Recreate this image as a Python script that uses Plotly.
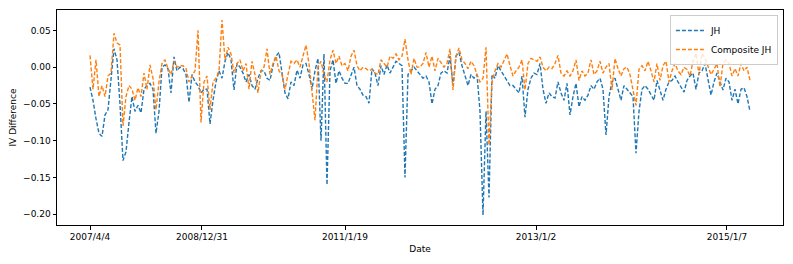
import plotly.graph_objects as go

# JH series (IV difference), one value per observation in time order
jh = [
    -0.027, -0.045, -0.070, -0.090, -0.094, -0.065, -0.058, -0.020, 0.025, 0.010,
    -0.050, -0.127, -0.115, -0.075, -0.040, -0.060, -0.052, -0.062, -0.030, -0.025,
    -0.022, -0.030, -0.090, -0.060, 0.000, 0.003, -0.002, -0.035, 0.014, -0.005,
    0.000, -0.002, -0.010, -0.048, -0.010, -0.020,
    -0.025, -0.035, -0.030, -0.030, -0.077, -0.045, -0.020, -0.005, -0.015, 0.008,
    0.020, 0.010, -0.031, 0.005, 0.000, -0.008, -0.020, -0.010, -0.025, -0.030,
    -0.015, -0.005, -0.005, -0.015, -0.018, 0.002, 0.015, 0.020, -0.010, -0.035,
    -0.043, -0.020, -0.025, -0.004, -0.015, 0.003,
    0.005, -0.010, -0.030, -0.005, 0.012, -0.100, 0.018, -0.160, -0.005, 0.010,
    -0.022, -0.005, -0.015, -0.022, -0.022, -0.010, 0.000, -0.025, -0.030, -0.038,
    -0.040, -0.049, -0.002, -0.008, -0.025, 0.002, -0.010, 0.003, -0.008, 0.000,
    0.008, 0.005, 0.002, -0.150, -0.010, -0.005, 0.000, -0.005,
    -0.010, -0.015, -0.012, -0.020, -0.050, -0.030, -0.025, -0.008, -0.005, -0.008,
    0.015, -0.025, 0.015, 0.020, 0.002, -0.010, -0.025, -0.010, -0.015, -0.010,
    -0.060, -0.201, -0.060, -0.177, -0.010, -0.015, 0.002, -0.005, -0.012, -0.018,
    -0.025, -0.025, -0.030, -0.035, -0.012, -0.068, -0.030, -0.015, -0.008,
    -0.010, 0.005, -0.030, -0.049, -0.035, -0.040, -0.042, -0.020, -0.035, -0.045,
    -0.022, -0.065, -0.040, -0.022, -0.054, -0.040, -0.045, -0.038, -0.025, -0.030,
    -0.020, -0.015, -0.030, -0.092, -0.040, -0.020, -0.015, -0.030, -0.045, -0.025,
    -0.030, -0.035, -0.040, -0.117, -0.060,
    -0.030, -0.025, -0.030, -0.038, -0.045, -0.018, -0.032, -0.045, -0.030, -0.020,
    -0.018, -0.012, -0.020, -0.028, -0.034, -0.018, -0.012, -0.008, -0.030, -0.008,
    -0.005, 0.005, -0.015, -0.038, -0.020, -0.008, -0.020, -0.031, -0.015, -0.020,
    -0.045, -0.030, -0.050, -0.030, -0.028, -0.040, -0.060,
]

# Composite JH series
composite_jh = [
    0.016, -0.030, 0.010, -0.040, -0.025, -0.040, -0.012, -0.008, 0.046, 0.033,
    0.030, -0.080, -0.040, -0.025, -0.030, -0.045, -0.028, -0.040, -0.008, -0.030,
    0.003, -0.015, -0.058, -0.020, 0.005, 0.010, -0.002, -0.010, 0.008, 0.000,
    0.002, 0.002, -0.002, -0.020, -0.012, -0.005,
    0.050, -0.075, -0.020, -0.012, -0.058, -0.020, -0.015, -0.005, 0.064, 0.010,
    0.027, 0.018, -0.008, 0.005, 0.010, -0.005, 0.005, -0.030, 0.008, -0.010,
    -0.035, -0.005, 0.000, 0.025, -0.010, 0.005, 0.015, -0.005, -0.010, -0.030,
    -0.010, 0.008, 0.005, 0.010, 0.000, 0.015,
    0.030, 0.005, -0.030, -0.072, 0.000, 0.008, -0.010, -0.020, 0.010, 0.023,
    0.005, 0.015, 0.002, 0.005, -0.005, 0.015, 0.023, 0.002, -0.005, 0.000,
    -0.002, -0.005, -0.003, -0.008, -0.010, 0.010, 0.005, 0.000, 0.015, 0.012,
    0.018, 0.010, 0.015, 0.038, 0.010, -0.010, 0.012, 0.000,
    0.000, 0.005, 0.020, 0.000, 0.015, -0.005, 0.012, 0.005, 0.000, 0.005,
    0.025, -0.031, 0.015, 0.026, 0.010, 0.005, -0.002, 0.008, 0.002, -0.010,
    -0.020, -0.015, 0.027, -0.106, -0.020, -0.005, 0.005, 0.000, 0.008, 0.018,
    0.002, -0.012, -0.005, 0.000, 0.010, -0.031, 0.005, 0.012, 0.010,
    0.008, 0.014, 0.000, -0.005, 0.000, -0.002, 0.005, 0.016, -0.008, -0.012,
    -0.005, -0.012, -0.005, 0.010, -0.018, -0.005, -0.012, -0.008, 0.010, -0.010,
    -0.005, 0.008, -0.008, 0.000, 0.005, -0.031, 0.012, -0.002, -0.012, -0.002,
    0.000, -0.010, -0.030, -0.052, -0.003,
    0.002, -0.005, 0.008, -0.005, -0.020, 0.005, -0.018, 0.002, 0.008, -0.020,
    -0.005, 0.005, -0.005, -0.010, 0.000, -0.003, -0.012, 0.008, 0.019, -0.010,
    0.019, 0.012, 0.000, -0.010, -0.003, 0.005, -0.027, 0.005, 0.010, 0.005,
    -0.012, -0.002, -0.012, 0.005, -0.005, 0.000, -0.018,
]

# Date tick labels and the observation index where each sits
tick_labels = ["2007/4/4", "2008/12/31", "2011/1/19", "2013/1/2", "2015/1/7"]
tick_positions = [0, 37.33, 85, 148.67, 212.33]

x_jh = list(range(len(jh)))
x_comp = list(range(len(composite_jh)))

fig = go.Figure()
fig.add_trace(go.Scatter(
    x=x_jh, y=jh, mode="lines", name="JH",
    line=dict(color="#1f77b4", width=1.4, dash="4px,2px"),
))
fig.add_trace(go.Scatter(
    x=x_comp, y=composite_jh, mode="lines", name="Composite JH",
    line=dict(color="#ff7f0e", width=1.4, dash="4px,2px"),
))

n = max(len(jh), len(composite_jh)) - 1
pad = n * 0.05
axis_common = dict(
    showline=True, linecolor="black", linewidth=1, mirror=True,
    ticks="outside", ticklen=3.5, tickcolor="black", tickwidth=0.8,
    showgrid=False, zeroline=False,
    tickfont=dict(family="DejaVu Sans", size=9, color="black"),
)
fig.update_xaxes(
    range=[-pad, n + pad],
    tickmode="array", tickvals=tick_positions, ticktext=tick_labels,
    title=dict(text="Date", font=dict(family="DejaVu Sans", size=9, color="black"), standoff=4),
    **axis_common,
)
fig.update_yaxes(
    range=[-0.2145, 0.0777],
    tickmode="array", tickvals=[0.05, 0.0, -0.05, -0.10, -0.15, -0.20],
    ticktext=["0.05", "0.00", "\u22120.05", "\u22120.10", "\u22120.15", "\u22120.20"],
    title=dict(text="IV Difference", font=dict(family="DejaVu Sans", size=9, color="black"), standoff=6),
    **axis_common,
)
fig.update_layout(
    width=785, height=256,
    margin=dict(l=49, r=10, t=2, b=39),
    paper_bgcolor="white", plot_bgcolor="white",
    showlegend=True,
    legend=dict(
        x=0.993, y=0.977, xanchor="right", yanchor="top",
        bgcolor="rgba(255,255,255,0.8)", bordercolor="#cccccc", borderwidth=1,
        font=dict(family="DejaVu Sans", size=9, color="black"),
        tracegroupgap=0, itemwidth=30,
    ),
)
fig.write_html("out.html")
